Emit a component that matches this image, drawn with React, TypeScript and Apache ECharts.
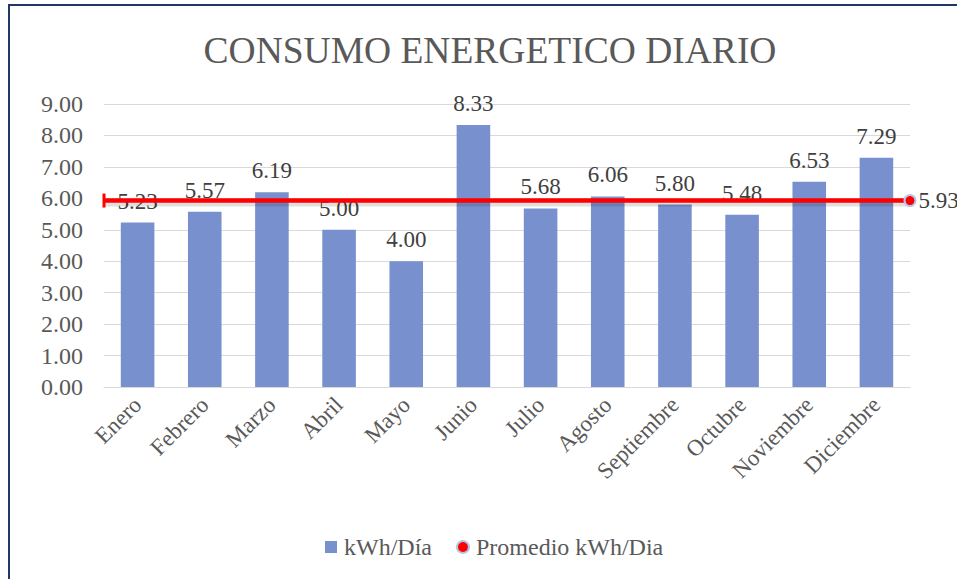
import React, { useEffect, useRef } from "react";
import * as echarts from "echarts";

const months = ["Enero", "Febrero", "Marzo", "Abril", "Mayo", "Junio", "Julio", "Agosto", "Septiembre", "Octubre", "Noviembre", "Diciembre"];
const kwhDia = [5.23, 5.57, 6.19, 5.0, 4.0, 8.33, 5.68, 6.06, 5.8, 5.48, 6.53, 7.29];
const promedio = 5.93;
const yTicks = { min: 0, max: 9, interval: 1 };

const FONT = "Liberation Serif";

export default function App() {
  const ref = useRef<HTMLDivElement>(null);
  useEffect(() => {
    if (!ref.current) return;
    const chart = echarts.init(ref.current, null, { renderer: "svg" });
    chart.setOption({
      animation: false,
      textStyle: { fontFamily: FONT },
      title: {
        text: "CONSUMO ENERGETICO DIARIO",
        left: 475,
        textAlign: "center",
        top: 20,
        textStyle: { fontFamily: FONT, fontSize: 37.5, fontWeight: "normal", color: "#595959" },
      },
      grid: { left: 94, right: 47, top: 98, bottom: 192, containLabel: false },
      legend: {
        bottom: 15,
        left: 310,
        itemGap: 24,
        itemWidth: 12,
        itemHeight: 12,
        textStyle: { fontFamily: FONT, fontSize: 24, color: "#595959", padding: [0, 0, 0, 2] },
        data: [
          { name: "kWh/Día", icon: "rect", itemStyle: { color: "#7891ce" } },
          { name: "Promedio kWh/Dia", icon: "circle", itemStyle: { color: "#ff0000", borderColor: "#b4c7e7", borderWidth: 2 } },
        ],
      },
      xAxis: [
        {
          type: "category",
          data: months,
          axisLine: { show: true, lineStyle: { color: "#d9d9d9", width: 1 } },
          axisTick: { show: false },
          axisLabel: { rotate: 45, fontSize: 23, color: "#595959", fontFamily: FONT, margin: 14, interval: 0 },
        },
        { type: "value", min: 0, max: 1, show: false },
      ],
      yAxis: {
        type: "value",
        min: yTicks.min,
        max: yTicks.max,
        interval: yTicks.interval,
        axisLine: { show: false },
        axisTick: { show: false },
        splitLine: { lineStyle: { color: "#d9d9d9", width: 1 } },
        axisLabel: { fontSize: 24, color: "#595959", fontFamily: FONT, margin: 21, formatter: (v: number) => v.toFixed(2) },
      },
      series: [
        {
          name: "kWh/Día",
          type: "bar",
          data: kwhDia,
          barWidth: "50%",
          itemStyle: { color: "#7891ce" },
          label: { show: true, position: "top", fontSize: 23, color: "#404040", fontFamily: FONT, distance: 10, formatter: (p: any) => p.value.toFixed(2) },
        },
        {
          name: "sombra",
          type: "line",
          xAxisIndex: 1,
          yAxisIndex: 0,
          silent: true,
          symbol: "none",
          data: [[0, promedio - 0.08], [1, promedio - 0.08]],
          lineStyle: { color: "rgba(0,0,0,0.12)", width: 7 },
          z: 4,
        },
        {
          name: "Promedio kWh/Dia",
          type: "line",
          xAxisIndex: 1,
          yAxisIndex: 0,
          data: [
            { value: [0, promedio], symbol: "rect", symbolSize: [3, 14], label: { show: false } },
            { value: [1, promedio], symbol: "circle", symbolSize: 11, itemStyle: { color: "#ff0000", borderColor: "#b4c7e7", borderWidth: 2 }, label: { show: true } },
          ],
          itemStyle: { color: "#ff0000" },
          lineStyle: { color: "#ff0000", width: 4.5 },
          label: { show: false, position: "right", fontSize: 23, color: "#404040", fontFamily: FONT, distance: 2, formatter: () => promedio.toFixed(2) },
          z: 5,
        },
      ],
    });
    return () => chart.dispose();
  }, []);
  return (
    <div style={{ position: "absolute", left: 8, top: 4, width: 949, height: 575, borderLeft: "2px solid #1f3864", borderTop: "2px solid #1f3864", background: "#fff", overflow: "hidden" }}>
      <div ref={ref} style={{ width: 947, height: 573 }} />
    </div>
  );
}
